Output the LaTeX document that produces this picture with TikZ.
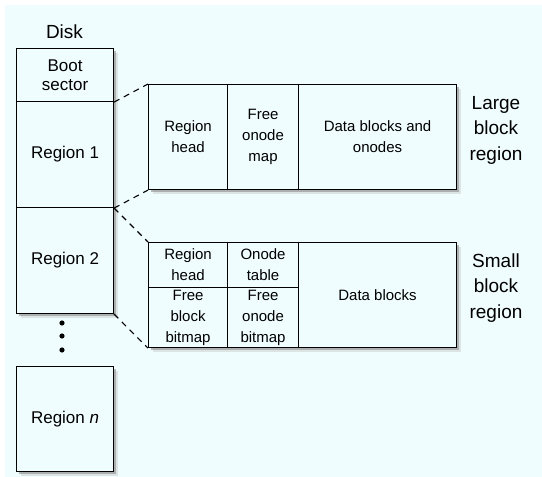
\documentclass[tikz,border=0pt]{standalone}
\usepackage{fontspec}
\setmainfont{Liberation Sans}
\usetikzlibrary{shadows}
\usetikzlibrary{positioning}

\definecolor{paper}{RGB}{240,253,254}

\begin{document}
\begin{tikzpicture}
  [x=1pt, y=-1pt,
   cell/.style = {draw, line width=1.1pt, fill=paper, inner sep=0pt, align=center,
                  anchor=north west, font=\fontsize{15}{21}\selectfont},
   disk/.style = {cell, minimum width=97pt, font=\fontsize{17}{22}\selectfont},
   frame/.style = {fill=paper,
                   drop shadow={shadow xshift=5pt, shadow yshift=-5pt, fill=black!20, opacity=.5},
                   drop shadow={shadow xshift=2.5pt, shadow yshift=-2.5pt, fill=black!45, opacity=.6}},
   label/.style = {align=center, inner sep=0pt, font=\fontsize{19}{25.5}\selectfont}]
  \fill[white] (0,0) rectangle (542,477);
  \fill[paper] (5,5) rectangle (542,477);

  % disk column
  \path[frame] (16,48) rectangle (113,313);
  \path[frame] (16,366) rectangle (113,471);
  \node[label] (disk) at (64.5,32) {Disk};
  \node[disk, minimum height=53pt] (boot) at (16,48) {Boot\\[-3pt]sector};
  \node[disk, minimum height=106pt] (r1) at (16,101) {Region 1};
  \node[disk, minimum height=106pt] (r2) at (16,207) {Region 2};
  \node[disk, minimum height=105pt] (rn) at (16,366) {Region \textit{n}};
  \foreach \y in {323, 336, 350}
    \fill (62,\y) circle (2.6pt);

  % large block region
  \path[frame] (148,84) rectangle (456,189);
  \node[cell, minimum width=79pt, minimum height=105pt] (lhead) at (148,84) {Region\\head};
  \node[cell, minimum width=71pt, minimum height=105pt] (lmap) at (227,84) {Free\\onode\\map};
  \node[cell, minimum width=158pt, minimum height=105pt] (ldata) at (298,84) {Data blocks and\\onodes};
  \node[label] (lname) at (496,130) {Large\\block\\region};

  % small block region
  \path[frame] (148,242) rectangle (456,347);
  \node[cell, minimum width=79pt, minimum height=45pt] (shead) at (148,242) {Region\\head};
  \node[cell, minimum width=71pt, minimum height=45pt] (stab) at (227,242) {Onode\\table};
  \node[cell, minimum width=79pt, minimum height=60pt] (sblk) at (148,287) {Free\\block\\bitmap};
  \node[cell, minimum width=71pt, minimum height=60pt] (sono) at (227,287) {Free\\onode\\bitmap};
  \node[cell, minimum width=158pt, minimum height=105pt] (sdata) at (298,242) {Data blocks};
  \node[label] (sname) at (496,288) {Small\\block\\region};

  \draw[dashed, line width=1.1pt, dash pattern=on 6pt off 5pt] (boot.south east) -- (lhead.north west);
  \draw[dashed, line width=1.1pt, dash pattern=on 6pt off 5pt] (r1.south east) -- (lhead.south west);
  \draw[dashed, line width=1.1pt, dash pattern=on 6pt off 5pt] (r1.south east) -- (shead.north west);
  \draw[dashed, line width=1.1pt, dash pattern=on 6pt off 5pt] (r2.south east) -- (sblk.south west);
\end{tikzpicture}
\end{document}
